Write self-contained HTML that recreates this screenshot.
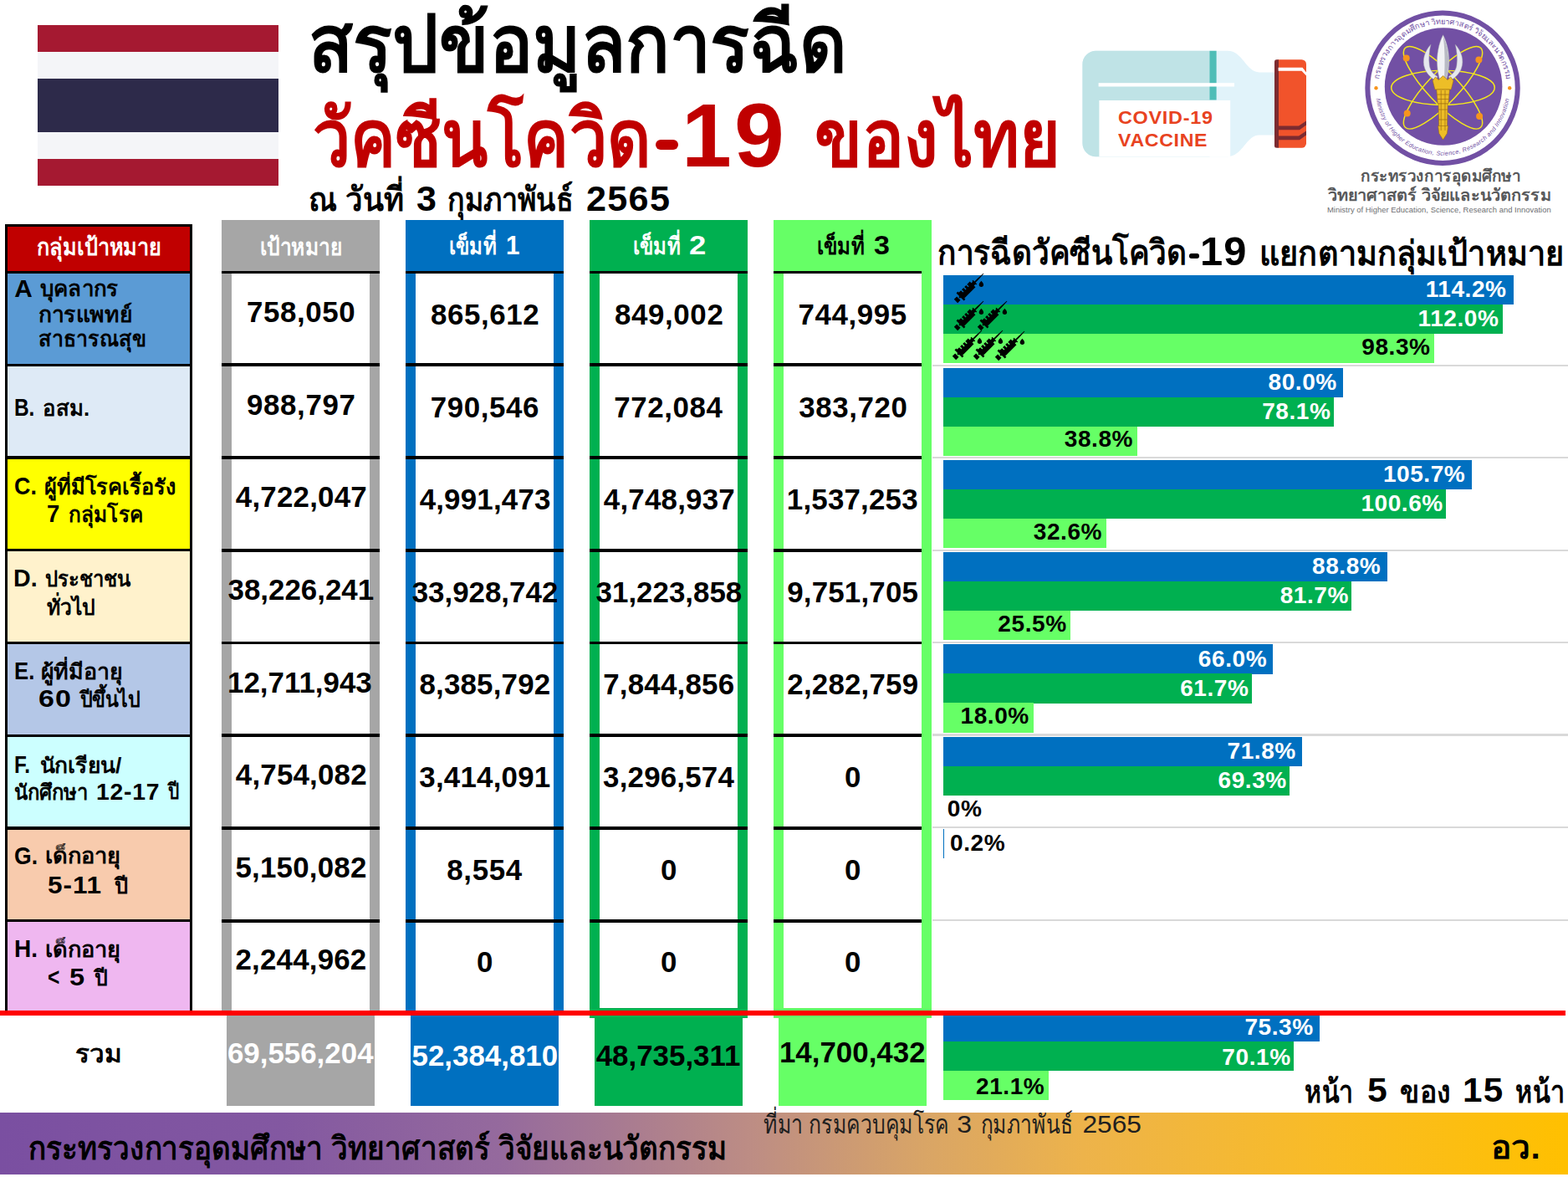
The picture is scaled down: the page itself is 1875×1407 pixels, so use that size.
<!DOCTYPE html>
<html lang="th"><head><meta charset="utf-8"><title>สรุปข้อมูลการฉีดวัคซีนโควิด-19 ของไทย</title><style>
html,body{margin:0;padding:0;background:#fff}
#p{position:relative;width:1875px;height:1407px;overflow:hidden;background:#fff;font-family:"Liberation Sans",sans-serif}
#p>*{position:absolute}
.b{display:block}
.n{font-weight:700;line-height:1;white-space:nowrap;margin:0;transform-origin:0 50%}
.th{overflow:visible;font-size:8px;line-height:1;white-space:nowrap}
.th>svg{position:absolute;left:0;top:0;display:block;overflow:visible}
.th text{font-family:"Liberation Sans",sans-serif}
</style></head>
<body>
<div id="p">
<div class="b" style="left:45px;top:29.5px;width:288px;height:32px;background:#A51931"></div>
<div class="b" style="left:45px;top:61.5px;width:288px;height:32px;background:#F4F5F8"></div>
<div class="b" style="left:45px;top:93.5px;width:288px;height:64.5px;background:#2D2A4A"></div>
<div class="b" style="left:45px;top:158px;width:288px;height:32px;background:#F4F5F8"></div>
<div class="b" style="left:45px;top:190px;width:288px;height:31.5px;background:#A51931"></div>
<div class="th" style="left:369.6px;top:6.31px;width:640.8px;height:106.86px"><svg width="640.8" height="106.86"><text x="-1.12" y="79.08" font-size="92.96" font-weight="700" fill="#000" textLength="643" lengthAdjust="spacingAndGlyphs">สรุปข้อมูลการฉีด</text></svg></div>
<div class="th" style="left:372px;top:118.41px;width:405.1px;height:83.7px"><svg width="405.1" height="83.7"><text x="1.54" y="79.97" font-size="94.01" font-weight="700" fill="#C00000" textLength="405" lengthAdjust="spacingAndGlyphs">วัคซีนโควิด</text></svg></div>
<div class="b" style="left:783.8px;top:166.6px;width:27.5px;height:12.3px;background:#C00000;border-radius:6.1px"></div>
<div class="n" style="left:814.82px;top:108.6px;font-size:107.12px;color:#C00000;letter-spacing:3.21px;transform:scaleX(1.004)">19</div>
<div class="th" style="left:974.9px;top:127.06px;width:291.4px;height:75.05px"><svg width="291.4" height="75.05"><text x="-1.22" y="71.32" font-size="94.01" font-weight="700" fill="#C00000" textLength="294" lengthAdjust="spacingAndGlyphs">ของไทย</text></svg></div>
<div class="th" style="left:369px;top:209.29px;width:113.6px;height:44.9px"><svg width="113.6" height="44.9"><text x="0.08" y="42.75" font-size="39.61" font-weight="700" fill="#000" textLength="113.6" lengthAdjust="spacingAndGlyphs">ณ วันที่</text></svg></div>
<div class="n" style="left:497.61px;top:216.86px;font-size:42.44px;color:#000;transform:scaleX(1.014)">3</div>
<div class="th" style="left:535.2px;top:219.08px;width:150.9px;height:44.86px"><svg width="150.9" height="44.86"><text x="0.11" y="32.97" font-size="39.61" font-weight="700" fill="#000" textLength="150" lengthAdjust="spacingAndGlyphs">กุมภาพันธ์</text></svg></div>
<div class="n" style="left:700.9px;top:216.86px;font-size:42.44px;color:#000;letter-spacing:1.27px;transform:scaleX(1.017)">2565</div>
<svg style="left:1285px;top:50px" width="290" height="150" viewBox="1285 50 290 150" role="img" aria-label="vaccine vial"><clipPath id="vc"><path d="M1310.4 60.8 H1468 C1486 60.8 1490 86.4 1506 86.4 H1526 V161.6 H1506 C1490 161.6 1486 187.2 1468 187.2 H1310.4 A16 16 0 0 1 1294.4 171.2 V76.8 A16 16 0 0 1 1310.4 60.8 Z"/></clipPath><g clip-path="url(#vc)"><rect x="1290" y="55" width="240" height="140" fill="#E1F3FA"/><rect x="1290" y="55" width="156.4" height="140" fill="#BFE3E6"/><rect x="1446.4" y="55" width="8.2" height="64.5" fill="#4FBDB7"/><rect x="1314.4" y="120" width="156.8" height="70" fill="#fff"/><rect x="1313.6" y="99.2" width="162.4" height="4.3" fill="#fff"/></g><rect x="1524" y="71.2" width="38" height="105.6" rx="5.5" fill="#F1532B"/><path d="M1529 71.2 h-0 a5 5 0 0 0 -5 5 v95.6 a5 5 0 0 0 5 5 h0 z" fill="#7C2B30"/><rect x="1524" y="71.2" width="4.6" height="105.6" rx="2.3" fill="#7C2B30"/><path d="M1528.6 80.8 H1557.5 L1562 86.5 V90.5 L1556.5 84.8 H1528.6 Z" fill="#fff"/><path d="M1528.6 150.4 H1553 L1562 144.6 V149.4 L1554 155.2 H1528.6 Z" fill="#7C2B30"/><path d="M1528.6 162.4 H1553 L1562 156.6 V161.4 L1554 167.2 H1528.6 Z" fill="#7C2B30"/></svg>
<div class="n" style="left:1336.64px;top:130.09px;font-size:22.09px;color:#E8431F;letter-spacing:0.66px;transform:scaleX(1.061)">COVID-19</div>
<div class="n" style="left:1337.44px;top:158.09px;font-size:21.51px;color:#E8431F;letter-spacing:0.65px;transform:scaleX(1.075)">VACCINE</div>
<svg style="left:1625px;top:5px" width="200" height="200" viewBox="1625 5 200 200" role="img" aria-label="MHESI logo"><circle cx="1725.05" cy="105.2" r="89.7" fill="#fff" stroke="#7250A4" stroke-width="6"/><circle cx="1726.1" cy="103.5" r="70.3" fill="#7250A4"/><ellipse cx="1725.5" cy="104.8" rx="61.8" ry="20.6" fill="none" stroke="#F4E81B" stroke-width="1.5"/><ellipse cx="1725.5" cy="104.8" rx="65.5" ry="18.5" fill="none" stroke="#F4E81B" stroke-width="1.5" transform="rotate(46.5 1725.5 104.8)"/><ellipse cx="1725.5" cy="104.8" rx="65.5" ry="18.5" fill="none" stroke="#F4E81B" stroke-width="1.5" transform="rotate(-46.5 1725.5 104.8)"/><circle cx="1681.7" cy="69.4" r="4" fill="#F7941D"/><circle cx="1768.4" cy="71.4" r="4" fill="#F7941D"/><circle cx="1682.7" cy="135.6" r="4" fill="#F7941D"/><circle cx="1769.1" cy="139.0" r="4" fill="#F7941D"/><circle cx="1645.5" cy="105.2" r="2.2" fill="#F7941D"/><circle cx="1805.2" cy="105.2" r="2.2" fill="#F7941D"/><g stroke="#9a9ca6" stroke-width="0.5"><path d="M1711 53.2 C1703.5 61 1700.2 72 1703.6 81.5 C1705.6 87.5 1710.5 92.5 1716.6 96.5 L1719 91.5 C1713.5 88.5 1710.2 84 1709.3 78 C1708.2 70 1709 61 1711 53.2 Z" fill="#E6E8EE"/><path d="M1740.2 53.2 C1747.7 61 1751 72 1747.6 81.5 C1745.6 87.5 1740.7 92.5 1734.6 96.5 L1732.2 91.5 C1737.7 88.5 1741 84 1741.9 78 C1743 70 1742.2 61 1740.2 53.2 Z" fill="#E6E8EE"/><path d="M1725.6 41.7 C1720.2 52 1717.8 66 1718.6 78 C1719 85 1720.4 91 1722 97 H1729.2 C1730.8 91 1732.2 85 1732.6 78 C1733.4 66 1731 52 1725.6 41.7 Z" fill="#F1F2F5"/></g><path d="M1725.6 43.5 C1727.5 55 1728.3 75 1726.8 96 H1729 C1730.6 90 1731.9 84 1732.2 78 C1732.9 66 1730.6 53 1725.6 43.5 Z" fill="#B9BBC4"/><g fill="#EDBE27" stroke="#9C6B12" stroke-width="0.6" stroke-linejoin="round"><path d="M1713.2 96.5 L1716.5 92 L1720.2 95.5 L1725.6 90.5 L1731 95.5 L1734.7 92 L1738 96.5 L1735.3 107 H1715.9 Z"/><path d="M1717.8 107 H1733.4 L1732 124 H1719.2 Z"/><path d="M1720 124 H1731.2 L1730.4 156 H1720.8 Z"/><path d="M1719.6 150.5 H1731.6 L1730.4 159.5 L1725.6 167 L1720.8 159.5 Z"/></g><path d="M1723.2 108 V156 M1728 108 V156 M1718.4 113 H1732.8 M1719 118.5 H1732.2 M1720.2 131 H1731 M1720.6 143 H1730.6" stroke="#9C6B12" stroke-width="0.7" fill="none"/><path id="lgt" d="M1649.5 92.56 A76.6 76.6 0 0 1 1800.6 92.56" fill="none"/><text font-family="Liberation Sans,sans-serif" font-size="9.3" fill="#7250A4" text-anchor="middle"><textPath href="#lgt" startOffset="50%">กระทรวงการอุดมศึกษา วิทยาศาสตร์ วิจัยและนวัตกรรม</textPath></text><path id="lgb" d="M1644.45 105.2 A80.6 80.6 0 0 0 1805.65 105.2" fill="none"/><text font-family="Liberation Sans,sans-serif" font-style="italic" font-size="7.3" fill="#7250A4"><textPath href="#lgb" startOffset="13.2" textLength="226.5" lengthAdjust="spacing">Ministry of Higher Education, Science, Research and Innovation</textPath></text></svg>
<div class="th" style="left:1627px;top:200.01px;width:191px;height:23.42px"><svg width="191" height="23.42"><text x="0.22" y="17.29" font-size="19.63" font-weight="700" fill="#58595B" textLength="191" lengthAdjust="spacingAndGlyphs">กระทรวงการอุดมศึกษา</text></svg></div>
<div class="th" style="left:1586.5px;top:223.03px;width:268.5px;height:17.86px"><svg width="268.5" height="17.86"><text x="0.83" y="16.57" font-size="19.63" font-weight="700" fill="#58595B" textLength="267" lengthAdjust="spacingAndGlyphs">วิทยาศาสตร์ วิจัยและนวัตกรรม</text></svg></div>
<div class="n" style="left:1587.03px;top:246.24px;font-size:9.4px;color:#6d6e71;letter-spacing:0.04px;font-weight:400">Ministry of Higher Education, Science, Research and Innovation</div>
<div class="b" style="left:5.5px;top:267.5px;width:224.5px;height:943.5px;background:#000"></div>
<div class="b" style="left:8.7px;top:270.8px;width:217.9px;height:53.2px;background:#C00000"></div>
<div class="b" style="left:8.7px;top:327.2px;width:217.9px;height:107.55px;background:#5B9BD5"></div>
<div class="b" style="left:8.7px;top:437.95px;width:217.9px;height:107.55px;background:#DEEAF6"></div>
<div class="b" style="left:8.7px;top:548.7px;width:217.9px;height:107.55px;background:#FFFF00"></div>
<div class="b" style="left:8.7px;top:659.45px;width:217.9px;height:107.55px;background:#FFF2CC"></div>
<div class="b" style="left:8.7px;top:770.2px;width:217.9px;height:107.55px;background:#B4C7E7"></div>
<div class="b" style="left:8.7px;top:880.95px;width:217.9px;height:107.55px;background:#CCFFFF"></div>
<div class="b" style="left:8.7px;top:991.7px;width:217.9px;height:107.55px;background:#F8CBAD"></div>
<div class="b" style="left:8.7px;top:1102.45px;width:217.9px;height:108.55px;background:#EFB7F0"></div>
<div class="th" style="left:43.6px;top:279.59px;width:149.2px;height:33.8px"><svg width="149.2" height="33.8"><text x="0.32" y="24.9" font-size="28.7" font-weight="700" fill="#fff" textLength="149" lengthAdjust="spacingAndGlyphs">กลุ่มเป้าหมาย</text></svg></div>
<div class="n" style="left:17.16px;top:329.57px;font-size:29.8px;color:#000">A</div>
<div class="th" style="left:48.3px;top:339.3px;width:93.5px;height:23.16px"><svg width="93.5" height="23.16"><text x="-0.22" y="15.14" font-size="25.53" font-weight="700" fill="#000" textLength="93.5" lengthAdjust="spacingAndGlyphs">บุคลากร</text></svg></div>
<div class="th" style="left:45.7px;top:362.72px;width:112.1px;height:23.26px"><svg width="112.1" height="23.26"><text x="0.32" y="21.52" font-size="25.53" font-weight="700" fill="#000" textLength="112" lengthAdjust="spacingAndGlyphs">การแพทย์</text></svg></div>
<div class="th" style="left:45.7px;top:398.26px;width:128.1px;height:24.11px"><svg width="128.1" height="24.11"><text x="0.38" y="16.09" font-size="25.53" font-weight="700" fill="#000" textLength="128" lengthAdjust="spacingAndGlyphs">สาธารณสุข</text></svg></div>
<div class="n" style="left:16.97px;top:472.07px;font-size:29.8px;color:#000;transform:scaleX(0.819)">B.</div>
<div class="th" style="left:50.8px;top:480.64px;width:56.4px;height:18.05px"><svg width="56.4" height="18.05"><text x="0.3" y="16.3" font-size="25.88" font-weight="700" fill="#000" textLength="56" lengthAdjust="spacingAndGlyphs">อสม.</text></svg></div>
<div class="n" style="left:16.8px;top:565.57px;font-size:29.8px;color:#000;transform:scaleX(0.901)">C.</div>
<div class="th" style="left:52.7px;top:562.54px;width:157.3px;height:36.26px"><svg width="157.3" height="36.26"><text x="-0.2" y="27.91" font-size="25.53" font-weight="700" fill="#000" textLength="157" lengthAdjust="spacingAndGlyphs">ผู้ที่มีโรคเรื้อรัง</text></svg></div>
<div class="n" style="left:55.92px;top:599.17px;font-size:29.8px;color:#000;transform:scaleX(0.923)">7</div>
<div class="th" style="left:82.1px;top:601.78px;width:89.5px;height:30.29px"><svg width="89.5" height="30.29"><text x="0.33" y="22.26" font-size="25.53" font-weight="700" fill="#000" textLength="89" lengthAdjust="spacingAndGlyphs">กลุ่มโรค</text></svg></div>
<div class="n" style="left:15.99px;top:676.47px;font-size:29.8px;color:#000;transform:scaleX(0.959)">D.</div>
<div class="th" style="left:53.9px;top:682.12px;width:102.3px;height:20.97px"><svg width="102.3" height="20.97"><text x="-0.25" y="19.23" font-size="25.53" font-weight="700" fill="#000" textLength="102" lengthAdjust="spacingAndGlyphs">ประชาชน</text></svg></div>
<div class="th" style="left:55.6px;top:707.9px;width:58px;height:28.78px"><svg width="58" height="28.78"><text x="-0.24" y="27.04" font-size="25.53" font-weight="700" fill="#000" textLength="58" lengthAdjust="spacingAndGlyphs">ทั่วไป</text></svg></div>
<div class="n" style="left:16.68px;top:786.77px;font-size:29.8px;color:#000;transform:scaleX(0.863)">E.</div>
<div class="th" style="left:49.3px;top:783.74px;width:97.6px;height:36.26px"><svg width="97.6" height="36.26"><text x="-0.27" y="27.91" font-size="25.53" font-weight="700" fill="#000" textLength="97.6" lengthAdjust="spacingAndGlyphs">ผู้ที่มีอายุ</text></svg></div>
<div class="n" style="left:46.15px;top:820.07px;font-size:29.8px;color:#000;letter-spacing:0.89px;transform:scaleX(1.141)">60</div>
<div class="th" style="left:94.5px;top:817.21px;width:72.8px;height:29.47px"><svg width="72.8" height="29.47"><text x="0.71" y="27.73" font-size="25.53" font-weight="700" fill="#000" textLength="72" lengthAdjust="spacingAndGlyphs">ปีขึ้นไป</text></svg></div>
<div class="n" style="left:16.77px;top:899.37px;font-size:29.8px;color:#000;transform:scaleX(0.816)">F.</div>
<div class="th" style="left:47.6px;top:901.8px;width:97.5px;height:24.18px"><svg width="97.5" height="24.18"><text x="-0.16" y="22.44" font-size="25.53" font-weight="700" fill="#000" textLength="97.5" lengthAdjust="spacingAndGlyphs">นักเรียน/</text></svg></div>
<div class="th" style="left:16.9px;top:933.3px;width:87.8px;height:24.29px"><svg width="87.8" height="24.29"><text x="-0.11" y="22.55" font-size="25.53" font-weight="700" fill="#000" textLength="87.8" lengthAdjust="spacingAndGlyphs">นักศึกษา</text></svg></div>
<div class="n" style="left:115.01px;top:932.2px;font-size:28.34px;color:#000;letter-spacing:0.76px">12-17</div>
<div class="th" style="left:200.3px;top:933.4px;width:13.9px;height:24.18px"><svg width="13.9" height="24.18"><text x="0.77" y="22.44" font-size="25.53" font-weight="700" fill="#000" textLength="13.1" lengthAdjust="spacingAndGlyphs">ปี</text></svg></div>
<div class="n" style="left:16.81px;top:1007.67px;font-size:29.8px;color:#000;transform:scaleX(0.891)">G.</div>
<div class="th" style="left:54.4px;top:1009.31px;width:90.7px;height:31.26px"><svg width="90.7" height="31.26"><text x="-0.28" y="23.24" font-size="25.53" font-weight="700" fill="#000" textLength="90.7" lengthAdjust="spacingAndGlyphs">เด็กอายุ</text></svg></div>
<div class="n" style="left:57.03px;top:1043.47px;font-size:29.8px;color:#000;letter-spacing:0.89px;transform:scaleX(1.057)">5-11</div>
<div class="th" style="left:135.5px;top:1045.9px;width:16.5px;height:24.18px"><svg width="16.5" height="24.18"><text x="0.72" y="22.44" font-size="25.53" font-weight="700" fill="#000" textLength="15.9" lengthAdjust="spacingAndGlyphs">ปี</text></svg></div>
<div class="n" style="left:16.53px;top:1119.37px;font-size:29.8px;color:#000;transform:scaleX(0.940)">H.</div>
<div class="th" style="left:54.4px;top:1121.01px;width:90.7px;height:31.26px"><svg width="90.7" height="31.26"><text x="-0.28" y="23.24" font-size="25.53" font-weight="700" fill="#000" textLength="90.7" lengthAdjust="spacingAndGlyphs">เด็กอายุ</text></svg></div>
<div class="n" style="left:56.97px;top:1153.47px;font-size:29.8px;color:#000;transform:scaleX(0.823)">&lt;</div>
<div class="n" style="left:82.6px;top:1153.47px;font-size:29.8px;color:#000;transform:scaleX(1.093)">5</div>
<div class="th" style="left:112.4px;top:1155.9px;width:16.2px;height:24.18px"><svg width="16.2" height="24.18"><text x="0.73" y="22.44" font-size="25.53" font-weight="700" fill="#000" textLength="15.6" lengthAdjust="spacingAndGlyphs">ปี</text></svg></div>
<div class="b" style="left:265.2px;top:263.2px;width:189.2px;height:947.8px;background:#A6A6A6"></div>
<div class="b" style="left:277.4px;top:327px;width:164.8px;height:884px;background:#fff"></div>
<div class="b" style="left:265.2px;top:323.7px;width:189.2px;height:3.6px;background:#000"></div>
<div class="b" style="left:265.2px;top:434.45px;width:189.2px;height:3.6px;background:#000"></div>
<div class="b" style="left:265.2px;top:545.2px;width:189.2px;height:3.6px;background:#000"></div>
<div class="b" style="left:265.2px;top:655.95px;width:189.2px;height:3.6px;background:#000"></div>
<div class="b" style="left:265.2px;top:766.7px;width:189.2px;height:3.6px;background:#000"></div>
<div class="b" style="left:265.2px;top:877.45px;width:189.2px;height:3.6px;background:#000"></div>
<div class="b" style="left:265.2px;top:988.2px;width:189.2px;height:3.6px;background:#000"></div>
<div class="b" style="left:265.2px;top:1098.95px;width:189.2px;height:3.6px;background:#000"></div>
<div class="th" style="left:310.6px;top:279.85px;width:98.5px;height:26.48px"><svg width="98.5" height="26.48"><text x="-0.23" y="24.65" font-size="28.7" font-weight="700" fill="#fff" textLength="98.5" lengthAdjust="spacingAndGlyphs">เป้าหมาย</text></svg></div>
<div class="n" style="left:294.89px;top:356.35px;font-size:34.9px;color:#000;letter-spacing:0.6px">758,050</div>
<div class="n" style="left:295.08px;top:466.9px;font-size:34.9px;color:#000;letter-spacing:0.6px">988,797</div>
<div class="n" style="left:281.87px;top:577.45px;font-size:34.9px;color:#000;letter-spacing:0.2px">4,722,047</div>
<div class="n" style="left:272.55px;top:688px;font-size:34.9px;color:#000">38,226,241</div>
<div class="n" style="left:272px;top:798.55px;font-size:34.9px;color:#000">12,711,943</div>
<div class="n" style="left:281.8px;top:909.1px;font-size:34.9px;color:#000;letter-spacing:0.2px">4,754,082</div>
<div class="n" style="left:281.53px;top:1019.65px;font-size:34.9px;color:#000;letter-spacing:0.2px">5,150,082</div>
<div class="n" style="left:281.46px;top:1130.2px;font-size:34.9px;color:#000;letter-spacing:0.2px">2,244,962</div>
<div class="b" style="left:271.2px;top:1211px;width:176.8px;height:110.7px;background:#A6A6A6"></div>
<div class="n" style="left:271.92px;top:1242.15px;font-size:34.9px;color:#fff">69,556,204</div>
<div class="b" style="left:485.1px;top:263.2px;width:189.2px;height:947.8px;background:#0070C0"></div>
<div class="b" style="left:497.3px;top:327px;width:164.8px;height:884px;background:#fff"></div>
<div class="b" style="left:485.1px;top:323.7px;width:189.2px;height:3.6px;background:#000"></div>
<div class="b" style="left:485.1px;top:434.45px;width:189.2px;height:3.6px;background:#000"></div>
<div class="b" style="left:485.1px;top:545.2px;width:189.2px;height:3.6px;background:#000"></div>
<div class="b" style="left:485.1px;top:655.95px;width:189.2px;height:3.6px;background:#000"></div>
<div class="b" style="left:485.1px;top:766.7px;width:189.2px;height:3.6px;background:#000"></div>
<div class="b" style="left:485.1px;top:877.45px;width:189.2px;height:3.6px;background:#000"></div>
<div class="b" style="left:485.1px;top:988.2px;width:189.2px;height:3.6px;background:#000"></div>
<div class="b" style="left:485.1px;top:1098.95px;width:189.2px;height:3.6px;background:#000"></div>
<div class="th" style="left:536.8px;top:273.33px;width:57px;height:32.7px"><svg width="57" height="32.7"><text x="-0.23" y="30.88" font-size="28.35" font-weight="700" fill="#fff" textLength="57" lengthAdjust="spacingAndGlyphs">เข็มที่</text></svg></div>
<div class="n" style="left:605.33px;top:277.89px;font-size:31.54px;color:#fff;transform:scaleX(0.940)">1</div>
<div class="n" style="left:514.97px;top:359.25px;font-size:34.9px;color:#000;letter-spacing:0.6px">865,612</div>
<div class="n" style="left:514.7px;top:469.8px;font-size:34.9px;color:#000;letter-spacing:0.6px">790,546</div>
<div class="n" style="left:501.64px;top:580.35px;font-size:34.9px;color:#000;letter-spacing:0.2px">4,991,473</div>
<div class="n" style="left:492.66px;top:690.9px;font-size:34.9px;color:#000">33,928,742</div>
<div class="n" style="left:501.41px;top:801.45px;font-size:34.9px;color:#000;letter-spacing:0.2px">8,385,792</div>
<div class="n" style="left:501.35px;top:912px;font-size:34.9px;color:#000;letter-spacing:0.2px">3,414,091</div>
<div class="n" style="left:534.37px;top:1022.55px;font-size:34.9px;color:#000;letter-spacing:0.6px">8,554</div>
<div class="n" style="left:570.02px;top:1133.1px;font-size:34.9px;color:#000;letter-spacing:0.6px">0</div>
<div class="b" style="left:491.1px;top:1211px;width:176.8px;height:110.7px;background:#0070C0"></div>
<div class="n" style="left:492.54px;top:1244.65px;font-size:34.9px;color:#fff">52,384,810</div>
<div class="b" style="left:705.2px;top:263.2px;width:189.2px;height:953.8px;background:#00B050"></div>
<div class="b" style="left:717.4px;top:327px;width:164.8px;height:878px;background:#fff"></div>
<div class="b" style="left:705.2px;top:323.7px;width:189.2px;height:3.6px;background:#000"></div>
<div class="b" style="left:705.2px;top:434.45px;width:189.2px;height:3.6px;background:#000"></div>
<div class="b" style="left:705.2px;top:545.2px;width:189.2px;height:3.6px;background:#000"></div>
<div class="b" style="left:705.2px;top:655.95px;width:189.2px;height:3.6px;background:#000"></div>
<div class="b" style="left:705.2px;top:766.7px;width:189.2px;height:3.6px;background:#000"></div>
<div class="b" style="left:705.2px;top:877.45px;width:189.2px;height:3.6px;background:#000"></div>
<div class="b" style="left:705.2px;top:988.2px;width:189.2px;height:3.6px;background:#000"></div>
<div class="b" style="left:705.2px;top:1098.95px;width:189.2px;height:3.6px;background:#000"></div>
<div class="th" style="left:756.9px;top:273.33px;width:57px;height:32.7px"><svg width="57" height="32.7"><text x="-0.23" y="30.88" font-size="28.35" font-weight="700" fill="#fff" textLength="57" lengthAdjust="spacingAndGlyphs">เข็มที่</text></svg></div>
<div class="n" style="left:823.53px;top:277.89px;font-size:31.54px;color:#fff;transform:scaleX(1.159)">2</div>
<div class="n" style="left:735.07px;top:359.25px;font-size:34.9px;color:#000;letter-spacing:0.6px">849,002</div>
<div class="n" style="left:734.27px;top:469.8px;font-size:34.9px;color:#000;letter-spacing:0.6px">772,084</div>
<div class="n" style="left:721.87px;top:580.35px;font-size:34.9px;color:#000;letter-spacing:0.2px">4,748,937</div>
<div class="n" style="left:712.6px;top:690.9px;font-size:34.9px;color:#000">31,223,858</div>
<div class="n" style="left:721.25px;top:801.45px;font-size:34.9px;color:#000;letter-spacing:0.2px">7,844,856</div>
<div class="n" style="left:721.06px;top:912px;font-size:34.9px;color:#000;letter-spacing:0.2px">3,296,574</div>
<div class="n" style="left:790.12px;top:1022.55px;font-size:34.9px;color:#000;letter-spacing:0.6px">0</div>
<div class="n" style="left:790.12px;top:1133.1px;font-size:34.9px;color:#000;letter-spacing:0.6px">0</div>
<div class="b" style="left:711.2px;top:1211px;width:176.8px;height:110.7px;background:#00B050"></div>
<div class="n" style="left:712.69px;top:1244.65px;font-size:34.9px;color:#000">48,735,311</div>
<div class="b" style="left:925.1px;top:263.2px;width:189.2px;height:953.8px;background:#66FF66"></div>
<div class="b" style="left:937.3px;top:327px;width:164.8px;height:878px;background:#fff"></div>
<div class="b" style="left:925.1px;top:323.7px;width:177px;height:3.6px;background:#000"></div>
<div class="b" style="left:925.1px;top:434.45px;width:177px;height:3.6px;background:#000"></div>
<div class="b" style="left:925.1px;top:545.2px;width:177px;height:3.6px;background:#000"></div>
<div class="b" style="left:925.1px;top:655.95px;width:177px;height:3.6px;background:#000"></div>
<div class="b" style="left:925.1px;top:766.7px;width:177px;height:3.6px;background:#000"></div>
<div class="b" style="left:925.1px;top:877.45px;width:177px;height:3.6px;background:#000"></div>
<div class="b" style="left:925.1px;top:988.2px;width:177px;height:3.6px;background:#000"></div>
<div class="b" style="left:925.1px;top:1098.95px;width:177px;height:3.6px;background:#000"></div>
<div class="th" style="left:976.8px;top:273.33px;width:57px;height:32.7px"><svg width="57" height="32.7"><text x="-0.23" y="30.88" font-size="28.35" font-weight="700" fill="#000" textLength="57" lengthAdjust="spacingAndGlyphs">เข็มที่</text></svg></div>
<div class="n" style="left:1044.72px;top:277.89px;font-size:31.54px;color:#000;transform:scaleX(1.078)">3</div>
<div class="n" style="left:954.56px;top:359.25px;font-size:34.9px;color:#000;letter-spacing:0.6px">744,995</div>
<div class="n" style="left:955.14px;top:469.8px;font-size:34.9px;color:#000;letter-spacing:0.6px">383,720</div>
<div class="n" style="left:940.8px;top:580.35px;font-size:34.9px;color:#000;letter-spacing:0.2px">1,537,253</div>
<div class="n" style="left:941.15px;top:690.9px;font-size:34.9px;color:#000;letter-spacing:0.2px">9,751,705</div>
<div class="n" style="left:941.31px;top:801.45px;font-size:34.9px;color:#000;letter-spacing:0.2px">2,282,759</div>
<div class="n" style="left:1010.02px;top:912px;font-size:34.9px;color:#000;letter-spacing:0.6px">0</div>
<div class="n" style="left:1010.02px;top:1022.55px;font-size:34.9px;color:#000;letter-spacing:0.6px">0</div>
<div class="n" style="left:1010.02px;top:1133.1px;font-size:34.9px;color:#000;letter-spacing:0.6px">0</div>
<div class="b" style="left:931.1px;top:1211px;width:176.8px;height:110.7px;background:#66FF66"></div>
<div class="n" style="left:931.96px;top:1241.15px;font-size:34.9px;color:#000">14,700,432</div>
<div class="th" style="left:89.9px;top:1253.3px;width:55.2px;height:19.04px"><svg width="55.2" height="19.04"><text x="0.17" y="17.19" font-size="29.23" font-weight="700" fill="#000" textLength="55" lengthAdjust="spacingAndGlyphs">รวม</text></svg></div>
<div class="th" style="left:1121.4px;top:281.42px;width:298.6px;height:37.49px"><svg width="298.6" height="37.49"><text x="-0.02" y="35.31" font-size="40.85" font-weight="700" fill="#000" textLength="298.6" lengthAdjust="spacingAndGlyphs">การฉีดวัคซีนโควิด</text></svg></div>
<div class="b" style="left:1421.8px;top:303.2px;width:12.4px;height:5.4px;background:#000;border-radius:2.7px"></div>
<div class="n" style="left:1435.02px;top:276.15px;font-size:48.84px;color:#000;letter-spacing:1.07px">19</div>
<div class="th" style="left:1506.8px;top:281.7px;width:363.9px;height:47.26px"><svg width="363.9" height="47.26"><text x="-0.83" y="35.02" font-size="40.85" font-weight="700" fill="#000" textLength="364" lengthAdjust="spacingAndGlyphs">แยกตามกลุ่มเป้าหมาย</text></svg></div>
<div class="b" style="left:1114.5px;top:435.9px;width:760.5px;height:2.2px;background:#D9D9D9"></div>
<div class="b" style="left:1114.5px;top:546.2px;width:760.5px;height:2.2px;background:#D9D9D9"></div>
<div class="b" style="left:1114.5px;top:656.5px;width:760.5px;height:2.2px;background:#D9D9D9"></div>
<div class="b" style="left:1114.5px;top:766.8px;width:760.5px;height:2.2px;background:#D9D9D9"></div>
<div class="b" style="left:1114.5px;top:877.4px;width:760.5px;height:2.2px;background:#D9D9D9"></div>
<div class="b" style="left:1114.5px;top:987.9px;width:760.5px;height:2.2px;background:#D9D9D9"></div>
<div class="b" style="left:1114.5px;top:1099.3px;width:760.5px;height:2.2px;background:#D9D9D9"></div>
<div class="b" style="left:1128px;top:329.2px;width:682.35px;height:35.3px;background:#0070C0"></div>
<div class="n" style="left:1704.69px;top:332.45px;font-size:28.05px;color:#fff;letter-spacing:0.55px">114.2%</div>
<div class="b" style="left:1128px;top:364.2px;width:669.2px;height:35.3px;background:#00B050"></div>
<div class="n" style="left:1695.55px;top:367.45px;font-size:28.05px;color:#fff;letter-spacing:0.55px">112.0%</div>
<div class="b" style="left:1128px;top:399.2px;width:587.34px;height:35.3px;background:#66FF66"></div>
<div class="n" style="left:1628.34px;top:401.05px;font-size:28.05px;color:#000;letter-spacing:0.55px">98.3%</div>
<div class="b" style="left:1128px;top:439.5px;width:478px;height:35.3px;background:#0070C0"></div>
<div class="n" style="left:1516.5px;top:442.75px;font-size:28.05px;color:#fff;letter-spacing:0.55px">80.0%</div>
<div class="b" style="left:1128px;top:474.5px;width:466.65px;height:35.3px;background:#00B050"></div>
<div class="n" style="left:1509.15px;top:477.75px;font-size:28.05px;color:#fff;letter-spacing:0.55px">78.1%</div>
<div class="b" style="left:1128px;top:509.5px;width:231.83px;height:35.3px;background:#66FF66"></div>
<div class="n" style="left:1272.83px;top:511.35px;font-size:28.05px;color:#000;letter-spacing:0.55px">38.8%</div>
<div class="b" style="left:1128px;top:549.8px;width:631.56px;height:35.3px;background:#0070C0"></div>
<div class="n" style="left:1653.9px;top:553.05px;font-size:28.05px;color:#fff;letter-spacing:0.55px">105.7%</div>
<div class="b" style="left:1128px;top:584.8px;width:601.08px;height:35.3px;background:#00B050"></div>
<div class="n" style="left:1627.43px;top:588.05px;font-size:28.05px;color:#fff;letter-spacing:0.55px">100.6%</div>
<div class="b" style="left:1128px;top:619.8px;width:194.78px;height:35.3px;background:#66FF66"></div>
<div class="n" style="left:1235.78px;top:621.65px;font-size:28.05px;color:#000;letter-spacing:0.55px">32.6%</div>
<div class="b" style="left:1128px;top:660.1px;width:530.58px;height:35.3px;background:#0070C0"></div>
<div class="n" style="left:1569.08px;top:663.35px;font-size:28.05px;color:#fff;letter-spacing:0.55px">88.8%</div>
<div class="b" style="left:1128px;top:695.1px;width:488.16px;height:35.3px;background:#00B050"></div>
<div class="n" style="left:1530.66px;top:698.35px;font-size:28.05px;color:#fff;letter-spacing:0.55px">81.7%</div>
<div class="b" style="left:1128px;top:730.1px;width:152.36px;height:35.3px;background:#66FF66"></div>
<div class="n" style="left:1193.36px;top:731.95px;font-size:28.05px;color:#000;letter-spacing:0.55px">25.5%</div>
<div class="b" style="left:1128px;top:770.4px;width:394.35px;height:35.3px;background:#0070C0"></div>
<div class="n" style="left:1432.85px;top:773.65px;font-size:28.05px;color:#fff;letter-spacing:0.55px">66.0%</div>
<div class="b" style="left:1128px;top:805.4px;width:368.66px;height:35.3px;background:#00B050"></div>
<div class="n" style="left:1411.16px;top:808.65px;font-size:28.05px;color:#fff;letter-spacing:0.55px">61.7%</div>
<div class="b" style="left:1128px;top:840.4px;width:107.55px;height:35.3px;background:#66FF66"></div>
<div class="n" style="left:1148.55px;top:842.25px;font-size:28.05px;color:#000;letter-spacing:0.55px">18.0%</div>
<div class="b" style="left:1128px;top:880.7px;width:429px;height:35.3px;background:#0070C0"></div>
<div class="n" style="left:1467.5px;top:883.95px;font-size:28.05px;color:#fff;letter-spacing:0.55px">71.8%</div>
<div class="b" style="left:1128px;top:915.7px;width:414.07px;height:35.3px;background:#00B050"></div>
<div class="n" style="left:1456.57px;top:918.95px;font-size:28.05px;color:#fff;letter-spacing:0.55px">69.3%</div>
<div class="n" style="left:1132.79px;top:953.05px;font-size:28.05px;color:#000;letter-spacing:0.55px">0%</div>
<div class="b" style="left:1128px;top:991px;width:1.3px;height:35px;background:#0070C0"></div>
<div class="n" style="left:1136.09px;top:993.75px;font-size:28.05px;color:#000;letter-spacing:0.55px">0.2%</div>
<div class="b" style="left:1128px;top:1210px;width:449.92px;height:35.3px;background:#0070C0"></div>
<div class="n" style="left:1488.42px;top:1214.05px;font-size:28.05px;color:#fff;letter-spacing:0.55px">75.3%</div>
<div class="b" style="left:1128px;top:1245px;width:418.85px;height:35.3px;background:#00B050"></div>
<div class="n" style="left:1461.35px;top:1249.65px;font-size:28.05px;color:#fff;letter-spacing:0.55px">70.1%</div>
<div class="b" style="left:1128px;top:1280px;width:126.07px;height:35.3px;background:#66FF66"></div>
<div class="n" style="left:1167.07px;top:1285.25px;font-size:28.05px;color:#000;letter-spacing:0.55px">21.1%</div>
<svg style="left:1136.5px;top:321.7px" width="50" height="46" viewBox="1136.5 321.7 50 46" aria-hidden="true" fill="#000"><g transform="translate(1142.5 359.7) rotate(-45)"><path d="M0 -3.1 H4.7 V3.1 H0 Z M5.8 -1.2 H7.4 V1.2 H5.8 Z M7.2 -6.4 H9.7 V6.4 H7.2 Z M9.7 -4.8 H13.4 V-1.4 H14.8 V-4.8 H17.8 V-1.4 H19.2 V-4.8 H22.2 V-1.4 H23.6 V-4.8 H28.4 V4.8 H9.7 Z M28.4 -2.2 H30.8 V-3.3 H32.4 V3.3 H30.8 V2.2 H28.4 Z M32.4 -0.9 H37 L46.8 -0.35 V0.35 L37 0.9 H32.4 Z"/><path d="M35.7 3.2 C36.6 4.6 38.4 5.9 38.4 7.6 A2.7 2.7 0 1 1 33 7.6 C33 5.9 34.8 4.6 35.7 3.2 Z" transform="rotate(45 35.7 7.3)"/></g></svg>
<svg style="left:1136.5px;top:355px" width="50" height="46" viewBox="1136.5 355 50 46" aria-hidden="true" fill="#000"><g transform="translate(1142.5 393) rotate(-45)"><path d="M0 -3.1 H4.7 V3.1 H0 Z M5.8 -1.2 H7.4 V1.2 H5.8 Z M7.2 -6.4 H9.7 V6.4 H7.2 Z M9.7 -4.8 H13.4 V-1.4 H14.8 V-4.8 H17.8 V-1.4 H19.2 V-4.8 H22.2 V-1.4 H23.6 V-4.8 H28.4 V4.8 H9.7 Z M28.4 -2.2 H30.8 V-3.3 H32.4 V3.3 H30.8 V2.2 H28.4 Z M32.4 -0.9 H37 L46.8 -0.35 V0.35 L37 0.9 H32.4 Z"/><path d="M35.7 3.2 C36.6 4.6 38.4 5.9 38.4 7.6 A2.7 2.7 0 1 1 33 7.6 C33 5.9 34.8 4.6 35.7 3.2 Z" transform="rotate(45 35.7 7.3)"/></g></svg>
<svg style="left:1164.7px;top:355.4px" width="50" height="46" viewBox="1164.7 355.4 50 46" aria-hidden="true" fill="#000"><g transform="translate(1170.7 393.4) rotate(-45)"><path d="M0 -3.1 H4.7 V3.1 H0 Z M5.8 -1.2 H7.4 V1.2 H5.8 Z M7.2 -6.4 H9.7 V6.4 H7.2 Z M9.7 -4.8 H13.4 V-1.4 H14.8 V-4.8 H17.8 V-1.4 H19.2 V-4.8 H22.2 V-1.4 H23.6 V-4.8 H28.4 V4.8 H9.7 Z M28.4 -2.2 H30.8 V-3.3 H32.4 V3.3 H30.8 V2.2 H28.4 Z M32.4 -0.9 H37 L46.8 -0.35 V0.35 L37 0.9 H32.4 Z"/><path d="M35.7 3.2 C36.6 4.6 38.4 5.9 38.4 7.6 A2.7 2.7 0 1 1 33 7.6 C33 5.9 34.8 4.6 35.7 3.2 Z" transform="rotate(45 35.7 7.3)"/></g></svg>
<svg style="left:1134.8px;top:389.5px" width="50" height="46" viewBox="1134.8 389.5 50 46" aria-hidden="true" fill="#000"><g transform="translate(1140.8 427.5) rotate(-45)"><path d="M0 -3.1 H4.7 V3.1 H0 Z M5.8 -1.2 H7.4 V1.2 H5.8 Z M7.2 -6.4 H9.7 V6.4 H7.2 Z M9.7 -4.8 H13.4 V-1.4 H14.8 V-4.8 H17.8 V-1.4 H19.2 V-4.8 H22.2 V-1.4 H23.6 V-4.8 H28.4 V4.8 H9.7 Z M28.4 -2.2 H30.8 V-3.3 H32.4 V3.3 H30.8 V2.2 H28.4 Z M32.4 -0.9 H37 L46.8 -0.35 V0.35 L37 0.9 H32.4 Z"/><path d="M35.7 3.2 C36.6 4.6 38.4 5.9 38.4 7.6 A2.7 2.7 0 1 1 33 7.6 C33 5.9 34.8 4.6 35.7 3.2 Z" transform="rotate(45 35.7 7.3)"/></g></svg>
<svg style="left:1160.4px;top:390.4px" width="50" height="46" viewBox="1160.4 390.4 50 46" aria-hidden="true" fill="#000"><g transform="translate(1166.4 428.4) rotate(-45)"><path d="M0 -3.1 H4.7 V3.1 H0 Z M5.8 -1.2 H7.4 V1.2 H5.8 Z M7.2 -6.4 H9.7 V6.4 H7.2 Z M9.7 -4.8 H13.4 V-1.4 H14.8 V-4.8 H17.8 V-1.4 H19.2 V-4.8 H22.2 V-1.4 H23.6 V-4.8 H28.4 V4.8 H9.7 Z M28.4 -2.2 H30.8 V-3.3 H32.4 V3.3 H30.8 V2.2 H28.4 Z M32.4 -0.9 H37 L46.8 -0.35 V0.35 L37 0.9 H32.4 Z"/><path d="M35.7 3.2 C36.6 4.6 38.4 5.9 38.4 7.6 A2.7 2.7 0 1 1 33 7.6 C33 5.9 34.8 4.6 35.7 3.2 Z" transform="rotate(45 35.7 7.3)"/></g></svg>
<svg style="left:1186px;top:390.8px" width="50" height="46" viewBox="1186 390.8 50 46" aria-hidden="true" fill="#000"><g transform="translate(1192 428.8) rotate(-45)"><path d="M0 -3.1 H4.7 V3.1 H0 Z M5.8 -1.2 H7.4 V1.2 H5.8 Z M7.2 -6.4 H9.7 V6.4 H7.2 Z M9.7 -4.8 H13.4 V-1.4 H14.8 V-4.8 H17.8 V-1.4 H19.2 V-4.8 H22.2 V-1.4 H23.6 V-4.8 H28.4 V4.8 H9.7 Z M28.4 -2.2 H30.8 V-3.3 H32.4 V3.3 H30.8 V2.2 H28.4 Z M32.4 -0.9 H37 L46.8 -0.35 V0.35 L37 0.9 H32.4 Z"/><path d="M35.7 3.2 C36.6 4.6 38.4 5.9 38.4 7.6 A2.7 2.7 0 1 1 33 7.6 C33 5.9 34.8 4.6 35.7 3.2 Z" transform="rotate(45 35.7 7.3)"/></g></svg>
<div class="b" style="left:0px;top:1207.8px;width:1872px;height:5.8px;background:#FF0000"></div>
<div class="b" style="left:0px;top:1330px;width:1875px;height:74.3px;background:linear-gradient(90deg,#7A4FA1 0%,#8358A1 18%,#956A9D 32%,#BD8D84 48%,#D9A566 59%,#EDB34B 69%,#F9BC25 85%,#FFC000 100%)"></div>
<div class="th" style="left:34.1px;top:1351.97px;width:835.2px;height:45.34px"><svg width="835.2" height="45.34"><text x="0.08" y="33.69" font-size="38.73" font-weight="700" fill="#000" textLength="835" lengthAdjust="spacingAndGlyphs">กระทรวงการอุดมศึกษา วิทยาศาสตร์ วิจัยและนวัตกรรม</text></svg></div>
<div class="th" style="left:1783px;top:1362.6px;width:59.2px;height:24.38px"><svg width="59.2" height="24.38"><text x="-0.15" y="22.26" font-size="38.38" font-weight="700" fill="#000" textLength="59" lengthAdjust="spacingAndGlyphs">อว.</text></svg></div>
<div class="th" style="left:1560.8px;top:1286.07px;width:57.5px;height:33.99px"><svg width="57.5" height="33.99"><text x="-0.61" y="31.9" font-size="37.5" font-weight="700" fill="#000" textLength="58" lengthAdjust="spacingAndGlyphs">หน้า</text></svg></div>
<div class="n" style="left:1634.78px;top:1283.43px;font-size:41.42px;color:#000;transform:scaleX(1.033)">5</div>
<div class="th" style="left:1673.5px;top:1296.2px;width:60.9px;height:23.86px"><svg width="60.9" height="23.86"><text x="0.14" y="21.77" font-size="37.5" font-weight="700" fill="#000" textLength="60.5" lengthAdjust="spacingAndGlyphs">ของ</text></svg></div>
<div class="n" style="left:1749.44px;top:1283.43px;font-size:41.42px;color:#000;letter-spacing:1.24px;transform:scaleX(1.019)">15</div>
<div class="th" style="left:1812.6px;top:1286.07px;width:58px;height:33.99px"><svg width="58" height="33.99"><text x="-0.62" y="31.9" font-size="37.5" font-weight="700" fill="#000" textLength="58.5" lengthAdjust="spacingAndGlyphs">หน้า</text></svg></div>
<div class="th" style="left:913.5px;top:1329.5px;width:220.6px;height:33.53px"><svg style="top:-8.61px" width="220.6" height="42.14"><text x="-1.02" y="33.71" font-size="31.48" font-weight="400" fill="#1f1f1f" textLength="222" lengthAdjust="spacingAndGlyphs">ที่มา กรมควบคุมโรค</text></svg></div>
<div class="th" style="left:1145.4px;top:1333.15px;width:16.8px;height:22.89px"><svg width="16.8" height="22.89"><text x="-0.74" y="21.45" font-size="29.43" font-weight="400" fill="#1f1f1f" textLength="17.8" lengthAdjust="spacingAndGlyphs">3</text></svg></div>
<div class="th" style="left:1173px;top:1329.74px;width:110.3px;height:33.29px"><svg width="110.3" height="33.29"><text x="-0.46" y="24.86" font-size="31.48" font-weight="400" fill="#1f1f1f" textLength="110.3" lengthAdjust="spacingAndGlyphs">กุมภาพันธ์</text></svg></div>
<div class="th" style="left:1295.1px;top:1333.15px;width:69.7px;height:22.89px"><svg width="69.7" height="22.89"><text x="-0.62" y="21.45" font-size="29.43" font-weight="400" fill="#1f1f1f" textLength="70.5" lengthAdjust="spacingAndGlyphs">2565</text></svg></div>
</div>
</body></html>
